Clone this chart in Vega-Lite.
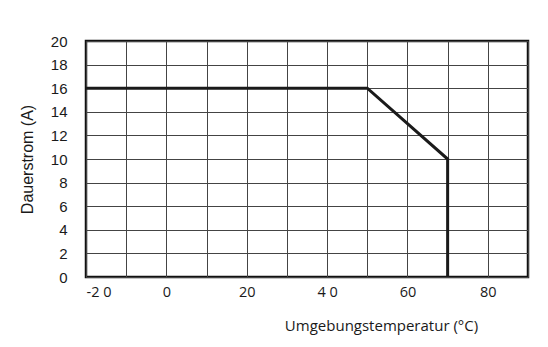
{
  "$schema": "https://vega.github.io/schema/vega-lite/v6.json",
  "width": 442,
  "height": 236,
  "autosize": {"type": "none"},
  "padding": {"left": 86, "top": 41, "right": 20, "bottom": 70},
  "background": "white",
  "data": {"values": [
    {"i": 1, "t": -20, "a": 16},
    {"i": 2, "t": 50, "a": 16},
    {"i": 3, "t": 70, "a": 10},
    {"i": 4, "t": 70, "a": 0}
  ]},
  "mark": {"type": "line", "color": "#1a1a1a", "strokeWidth": 3, "strokeJoin": "miter"},
  "encoding": {
    "x": {
      "field": "t", "type": "quantitative",
      "scale": {"domain": [-20, 90], "nice": false, "zero": false},
      "axis": {
        "title": "Umgebungstemperatur (°C)",
        "values": [-20, -10, 0, 10, 20, 30, 40, 50, 60, 70, 80, 90],
        "labelExpr": "datum.value % 20 == 0 ? (datum.value == -20 ? '-2 0' : datum.value == 40 ? '4 0' : datum.label) : ''",
        "grid": true, "gridColor": "#444", "gridWidth": 1,
        "domain": false, "ticks": false,
        "labelFont": "Open Sans", "labelFontSize": 14.5, "labelColor": "#1a1a1a",
        "labelPadding": 8,
        "titleFont": "Open Sans", "titleFontSize": 15, "titleFontWeight": "normal", "titleColor": "#1a1a1a",
        "titleAnchor": null, "titleAlign": "center", "titleX": 295, "titleY": 48, "titleBaseline": "middle"
      }
    },
    "y": {
      "field": "a", "type": "quantitative",
      "scale": {"domain": [0, 20], "nice": false},
      "axis": {
        "title": "Dauerstrom (A)",
        "values": [0, 2, 4, 6, 8, 10, 12, 14, 16, 18, 20],
        "grid": true, "gridColor": "#444", "gridWidth": 1,
        "domain": false, "ticks": false,
        "labelFont": "Liberation Sans", "labelFontSize": 15, "labelColor": "#1a1a1a",
        "labelPadding": 19,
        "titleFont": "Liberation Sans", "titleFontSize": 16, "titleFontWeight": "normal", "titleColor": "#1a1a1a",
        "titlePadding": 15
      }
    },
    "order": {"field": "i", "type": "quantitative"}
  },
  "config": {
    "view": {"stroke": "#111", "strokeWidth": 2.5}
  }
}
